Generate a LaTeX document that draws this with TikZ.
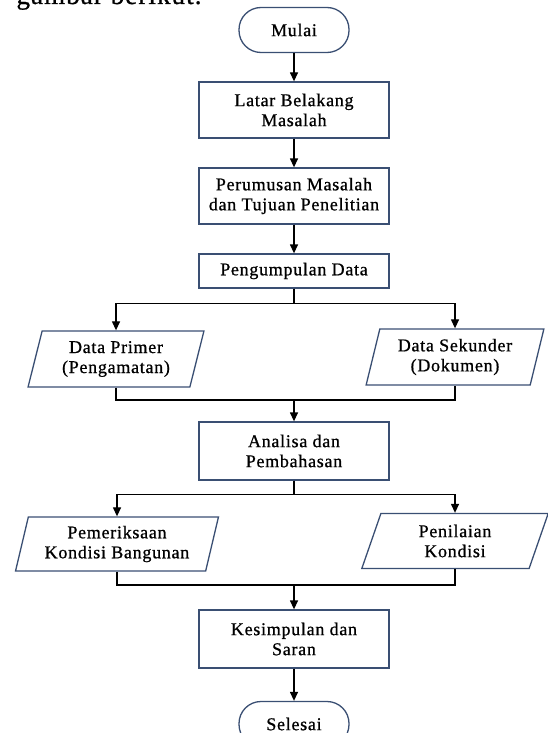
\documentclass[tikz,border=0pt]{standalone}
\usepackage{fontspec}
\setmainfont{Liberation Serif}[LetterSpace=4, FakeBold=0.8]
\usetikzlibrary{shapes.geometric,arrows.meta}
\definecolor{garisbox}{HTML}{3A4F73}
\begin{document}
\begin{tikzpicture}[x=1pt, y=-1pt,
  >={Triangle[length=9pt,width=8pt]},
  every node/.style={font=\fontsize{18}{20}\selectfont, align=center},
  proses/.style={rectangle, draw=garisbox, line width=1.3pt, minimum width=190pt, inner sep=0pt},
  masukan/.style={trapezium, trapezium left angle=74, trapezium right angle=106,
    trapezium stretches=true, draw=garisbox, line width=1.3pt, inner sep=0pt},
  terminal/.style={rectangle, rounded corners=22pt, draw=garisbox, line width=1.3pt,
    minimum width=110pt, minimum height=45pt},
  garis/.style={line width=1.3pt}]
  \useasboundingbox (0,0) rectangle (548,733);
  % \draw[help lines] (0,0) grid[step=50] (548,733);
  \node[anchor=base west, font=\fontsize{27}{30}\selectfont] (judul) at (13,4) {gambar berikut.};

  \node at (294,30) [terminal] (mulai) {Mulai};
  \node at (294,110) [proses, minimum height=56pt] (latar) {Latar Belakang\\Masalah};
  \node at (294,196) [proses, minimum height=56pt] (rumus) {Perumusan Masalah\\dan Tujuan Penelitian};
  \node at (294,271) [proses, minimum height=34pt] (kumpul) {Pengumpulan Data};
  \node at (116,359) [masukan, minimum width=176pt, minimum height=56pt] (primer) {Data Primer\\(Pengamatan)};
  \node at (455,357) [masukan, minimum width=178pt, minimum height=56pt] (sekunder) {Data Sekunder\\(Dokumen)};
  \node at (294,451) [proses, minimum height=58pt] (analisa) {Analisa dan\\Pembahasan};
  \node at (117,544) [masukan, minimum width=203pt, minimum height=54pt] (periksa) {Pemeriksaan\\Kondisi Bangunan};
  \node at (455,541) [masukan, minimum width=187pt, minimum height=55pt] (nilai) {Penilaian\\Kondisi};
  \node at (294,639) [proses, minimum height=58pt] (simpul) {Kesimpulan dan\\Saran};
  \node at (294,724) [terminal] (selesai) {Selesai};

  \coordinate (gabung1) at (294,400);
  \coordinate (gabung2) at (294,585);

  \draw[garis, ->] (mulai) -- (latar);
  \draw[garis, ->] (latar) -- (rumus);
  \draw[garis, ->] (rumus) -- (kumpul);
  \draw[garis, ->] (kumpul.south) -- ++(0,15) -| (primer.north);
  \draw[garis, ->] (kumpul.south) -- ++(0,15) -| (sekunder.north);
  \draw[garis] (primer.south) |- (gabung1) -| (sekunder.south);
  \draw[garis, ->] (gabung1) -- (analisa);
  \draw[garis, ->] (analisa.south) -- ++(0,14) -| (periksa.north);
  \draw[garis, ->] (analisa.south) -- ++(0,14) -| (nilai.north);
  \draw[garis] (periksa.south) |- (gabung2) -| (nilai.south);
  \draw[garis, ->] (gabung2) -- (simpul);
  \draw[garis, ->] (simpul) -- (selesai);
\end{tikzpicture}
\end{document}
